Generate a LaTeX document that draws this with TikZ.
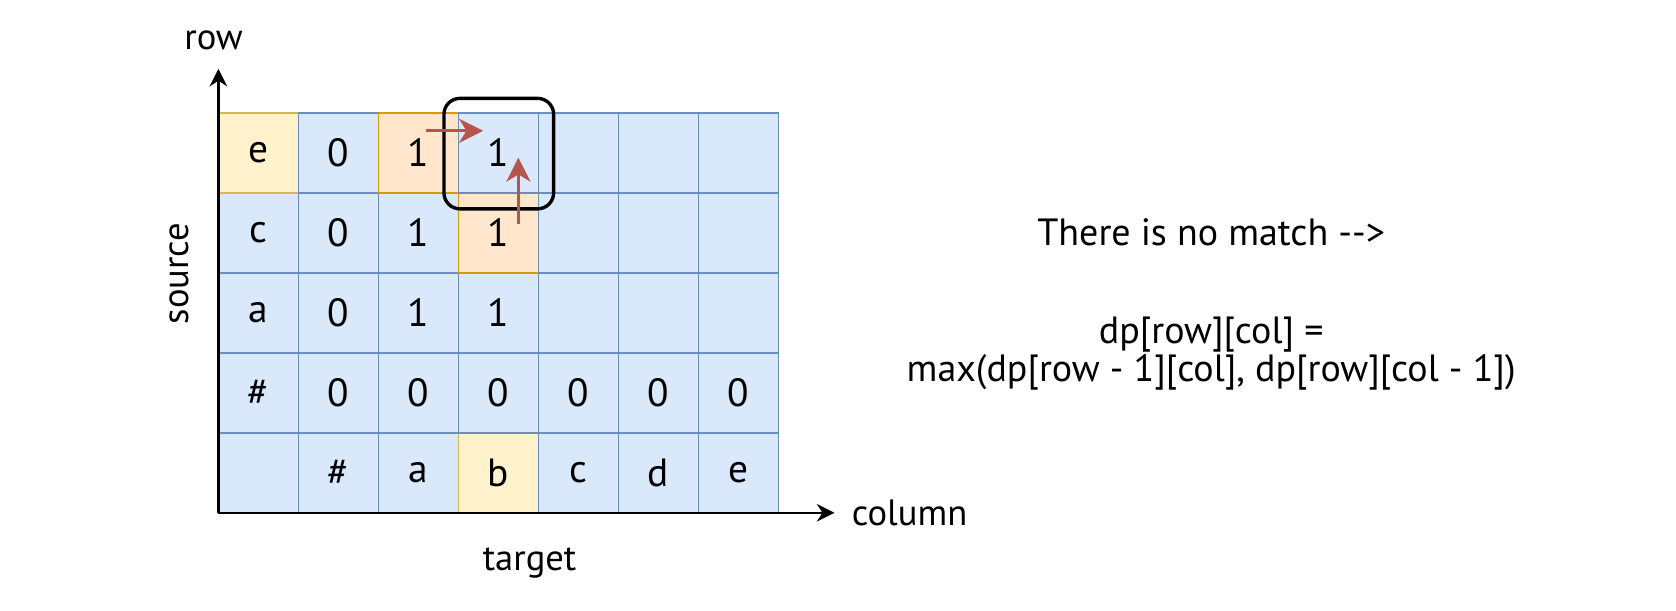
\documentclass[tikz,border=0pt]{standalone}
\usepackage{fontspec}
\setmainfont{PT Sans}
\usetikzlibrary{arrows.meta,positioning,calc}
\definecolor{cellblue}{HTML}{DAE8FC}
\definecolor{lineblue}{HTML}{6C8EBF}
\definecolor{cellyellow}{HTML}{FFF2CC}
\definecolor{lineyellow}{HTML}{D6B656}
\definecolor{cellorange}{HTML}{FFE6CC}
\definecolor{lineorange}{HTML}{D79B00}
\definecolor{arrowred}{HTML}{B85450}
\tikzset{
	>=Stealth,
	cell/.style = {
			draw       = lineblue,
			fill       = cellblue,
			line width = 0.6pt,
			minimum size = 1cm,
			inner sep  = 0pt,
			font       = \fontsize{14}{16}\selectfont,
		},
	yellowcell/.style = {draw=lineyellow, fill=cellyellow},
	orangecell/.style = {draw=lineorange, fill=cellorange},
	tone 0-4/.style = {yellowcell},
	tone 3-0/.style = {yellowcell},
	tone 2-4/.style = {orangecell},
	tone 3-3/.style = {orangecell},
	axis/.style = {draw=black, line width=0.8pt, -{Stealth[length=2.2mm,width=2.2mm]}},
	move/.style = {draw=arrowred, line width=1.1pt, -{Stealth[length=3mm,width=3mm,inset=0.9mm]}},
	focusbox/.style = {draw=black, line width=1.2pt, rounded corners=2mm},
	axislabel/.style = {font=\fontsize{13}{15}\selectfont},
	note/.style = {font=\fontsize{13.5}{10}\selectfont, align=center},
}

\begin{document}
\begin{tikzpicture}
	\useasboundingbox (-2.73,-1.217) rectangle (18.22,6.41);

	% table of dp values, bottom row first
	\foreach \y/\row in {%
	0/{{},\#,a,b,c,d,e},%
	1/{\#,0,0,0,0,0,0},%
	2/{a,0,1,1,{},{},{}},%
	3/{c,0,1,1,{},{},{}},%
	4/{e,0,1,1,{},{},{}}%
	} {
	\foreach \lbl [count=\i from 0] in \row {
	\node[cell, tone \i-\y/.try] (c-\i-\y) at (\i+0.5,\y+0.5) {\lbl};
	}
	}

	% axes
	\coordinate (origin) at (0,0);
	\coordinate (ytip) at (0,5.55);
	\coordinate (xtip) at (7.7,0);
	\draw[axis] (origin) -- (ytip);
	\draw[axis] (origin) -- (xtip);
	\node[axislabel] (rowlabel) at (-0.06,5.91) {row};
	\node[axislabel] (columnlabel) at (8.64,0) {column};
	\node[axislabel, rotate=90] (sourcelabel) at (-0.49,2.99) {source};
	\node[axislabel] (targetlabel) at (3.89,-0.63) {target};

	% current cell and where its value comes from
	\draw[focusbox] ($(c-3-4.south west)+(-0.17,-0.19)$) rectangle ($(c-3-4.north east)+(0.18,0.17)$);
	\coordinate (leftfrom) at ($(c-2-4.center)+(0.1,0.275)$);
	\coordinate (leftto) at ($(c-3-4.west)+(0.32,0.275)$);
	\coordinate (downfrom) at ($(c-3-3.center)+(0.25,0.11)$);
	\coordinate (downto) at ($(c-3-4.center)+(0.25,-0.06)$);
	\draw[move] (leftfrom) -- (leftto);
	\draw[move] (downfrom) -- (downto);

	\node[note, anchor=base] (nomatch) at (12.41,3.345) {There is no match -{}-{}>};
	\node[note] (rule) at (12.41,1.99) {dp[row][col] =\\max(dp[row - 1][col], dp[row][col - 1])};
\end{tikzpicture}
\end{document}
